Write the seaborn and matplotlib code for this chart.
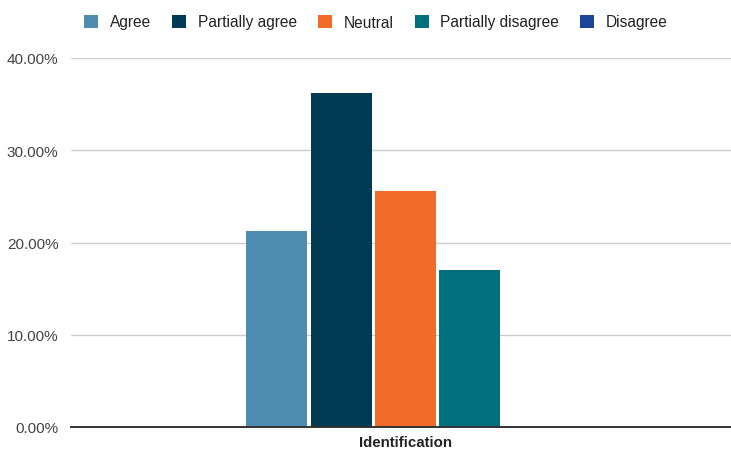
import matplotlib
matplotlib.use("Agg")
import matplotlib.pyplot as plt
import matplotlib.ticker as mticker
import seaborn as sns
import pandas as pd

# Survey responses for the "Identification" item (share of respondents)
categories = ["Identification"]
responses = ["Agree", "Partially agree", "Neutral", "Partially disagree", "Disagree"]
shares = [0.2128, 0.3617, 0.2553, 0.1702, 0.0]
colors = ["#4f8db0", "#003a54", "#f26b29", "#00707e", "#1a4599"]
y_ticks = [0.0, 0.1, 0.2, 0.3, 0.4]

df = pd.DataFrame({
    "item": categories * len(responses),
    "response": responses,
    "share": shares,
})

sns.set_theme(style="white")
plt.rcParams["font.family"] = ["Liberation Sans", "DejaVu Sans"]

fig = plt.figure(figsize=(7.31, 4.52), dpi=100)
ax = fig.add_axes([71 / 731, 1 - 428 / 452, 660 / 731, (428 - 59) / 452])

sns.barplot(
    data=df, x="item", y="share", hue="response", hue_order=responses,
    palette=colors, width=0.8, gap=0.05, linewidth=0, saturation=1,
    ax=ax, legend=True,
)

ax.set_ylim(0, 0.4)
ax.set_yticks(y_ticks)
ax.yaxis.set_major_formatter(mticker.FuncFormatter(lambda v, _: f"{v * 100:.2f}%"))
ax.set_xlim(-0.832, 0.810)

ax.grid(axis="y", color="#cccccc", linewidth=1)
ax.set_axisbelow(True)
for side in ["top", "right", "left"]:
    ax.spines[side].set_visible(False)
ax.spines["bottom"].set_color("#333333")
ax.spines["bottom"].set_linewidth(1.4)
ax.spines["bottom"].set_zorder(5)

ax.tick_params(axis="both", length=0)
ax.tick_params(axis="y", labelsize=11, labelcolor="#444444", pad=9)
ax.tick_params(axis="x", labelsize=10.8, labelcolor="#222222", pad=6)
for lbl in ax.get_xticklabels():
    lbl.set_fontweight("bold")
ax.set_xlabel("")
ax.set_ylabel("")

handles, labels = ax.get_legend_handles_labels()
ax.legend_.remove()
fig.legend(
    handles, labels, loc="center", bbox_to_anchor=(376 / 731, 1 - 23 / 452),
    ncol=5, frameon=False, fontsize=11.2, labelcolor="#222222",
    handlelength=0.9, handleheight=0.9, handletextpad=0.75, columnspacing=1.35,
)

fig.savefig("out.png", dpi=100)
